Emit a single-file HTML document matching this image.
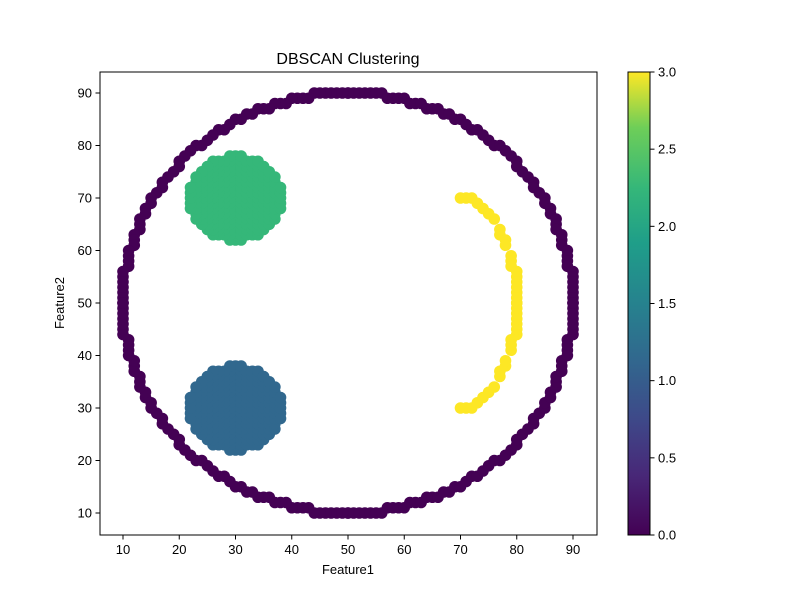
<!DOCTYPE html>
<html><head><meta charset="utf-8"><style>
body{margin:0;background:#fff;font-family:"Liberation Sans",sans-serif}
text{font-family:"Liberation Sans",sans-serif;fill:#000}
</style></head><body>
<svg id="c" width="800" height="600" xmlns="http://www.w3.org/2000/svg">
<defs><linearGradient id="vir" x1="0" y1="1" x2="0" y2="0">
<stop offset="0" stop-color="#440154"/><stop offset="0.13" stop-color="#482878"/><stop offset="0.25" stop-color="#3e4989"/><stop offset="0.38" stop-color="#31688e"/><stop offset="0.5" stop-color="#26828e"/><stop offset="0.63" stop-color="#1f9e89"/><stop offset="0.75" stop-color="#35b779"/><stop offset="0.88" stop-color="#6ece58"/><stop offset="1" stop-color="#fde725"/></linearGradient></defs>
<g id="pts"></g>
<rect x="100" y="72" width="497" height="463" fill="none" stroke="#000" stroke-width="1"/>
<g id="ax"></g>
<text x="348" y="64" font-size="16" text-anchor="middle">DBSCAN Clustering</text>
<text x="348" y="574" font-size="13" text-anchor="middle">Feature1</text>
<text x="64" y="303" font-size="13" text-anchor="middle" transform="rotate(-90 64 303)">Feature2</text>
<rect x="628" y="72" width="22" height="463" fill="url(#vir)" stroke="#000" stroke-width="1"/>
<g id="cb"></g>
</svg>
<script>
const xTicks=[10,20,30,40,50,60,70,80,90];
const yTicks=[10,20,30,40,50,60,70,80,90];
const cbTicks=[0,0.5,1,1.5,2,2.5,3];
const colors=["#440154","#31688e","#35b779","#fde725"];
const ringCenter=[50,50];
const ringQuadrant=[[0,40],[1,40],[2,40],[3,40],[4,40],[5,40],[6,40],[7,39],[8,39],[9,39],[10,39],[11,38],[12,38],[13,38],[14,37],[15,37],[16,37],[17,36],[18,36],[19,35],[20,35],[21,34],[22,33],[23,33],[24,32],[25,31],[26,30],[27,30],[28,29],[29,28],[30,27],[30,26],[31,25],[32,24],[33,23],[33,22],[34,21],[35,20],[35,19],[36,18],[36,17],[37,16],[37,15],[37,14],[38,13],[38,12],[38,11],[39,10],[39,9],[39,8],[39,7],[40,6],[40,5],[40,4],[40,3],[40,2],[40,1],[40,0]];
const blobCenters=[[30,30],[30,70]];
const blobLabels=[1,2];
const blobHalf=[8,8,7,7,7,6,5,4,2];
const arcPoints=[[70,70],[71,70],[72,70],[73,69],[74,68],[75,67],[76,66],[77,64],[77,63],[78,62],[78,61],[79,59],[79,58],[79,57],[80,56],[80,55],[80,54],[80,53],[80,52],[80,51],[80,50]];
const X=v=>123+(v-10)*5.625, Y=v=>513-(v-10)*5.25, CB=v=>535-v/3*463;
const NS="http://www.w3.org/2000/svg";
function mk(t,a,p){const e=document.createElementNS(NS,t);for(const k in a)e.setAttribute(k,a[k]);p.appendChild(e);return e;}
const pts=document.getElementById('pts');
function dot(x,y,l){const c=mk('circle',{cx:X(x),cy:Y(y),r:5.8,fill:colors[l]},pts);

}
ringQuadrant.forEach(([dx,dy])=>{[[1,1],[1,-1],[-1,1],[-1,-1]].forEach(([sx,sy])=>dot(ringCenter[0]+sx*dx,ringCenter[1]+sy*dy,0));});
blobCenters.forEach((c,i)=>{blobHalf.forEach((h,dx)=>{for(let dy=-h;dy<=h;dy++){dot(c[0]+dx,c[1]+dy,blobLabels[i]);if(dx)dot(c[0]-dx,c[1]+dy,blobLabels[i]);}});});
arcPoints.forEach(([x,y])=>{dot(x,y,3);dot(x,100-y,3);});
const ax=document.getElementById('ax');
xTicks.forEach(v=>{const l=mk('line',{x1:X(v),x2:X(v),y1:535,y2:539.5,stroke:'#000'},ax);


const t=mk('text',{x:X(v),y:554,'font-size':13,'text-anchor':'middle'},ax);t.textContent=v;

});
yTicks.forEach(v=>{const l=mk('line',{x1:95.5,x2:100,y1:Y(v),y2:Y(v),stroke:'#000'},ax);


const t=mk('text',{x:92,y:Y(v)+4.5,'font-size':13,'text-anchor':'end'},ax);t.textContent=v;

});
const cb=document.getElementById('cb');
cbTicks.forEach(v=>{const l=mk('line',{x1:650,x2:654.5,y1:CB(v),y2:CB(v),stroke:'#000'},cb);


const t=mk('text',{x:658,y:CB(v)+4.5,'font-size':13},cb);t.textContent=v.toFixed(1);

});
</script>
</body></html>
